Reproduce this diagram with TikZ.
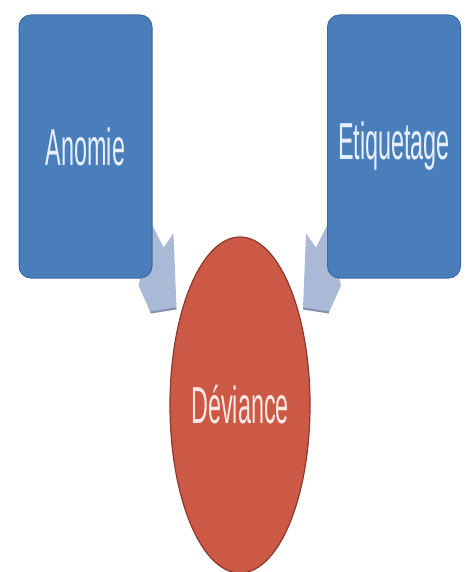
\documentclass[tikz,border=0pt]{standalone}
\usepackage{fontspec}
\setmainfont[FakeStretch=0.45]{Liberation Sans}
\usetikzlibrary{shapes.geometric,backgrounds}
\definecolor{boxblue}{RGB}{74,126,187}
\definecolor{boxedge}{RGB}{62,105,160}
\definecolor{ovalred}{RGB}{204,88,70}
\definecolor{ovaledge}{RGB}{140,58,48}
\definecolor{arrowblue}{RGB}{170,186,214}
\definecolor{arrowedge}{RGB}{130,144,170}
\definecolor{boxtext}{RGB}{232,240,255}
\definecolor{ovaltext}{RGB}{255,232,228}
\tikzset{
  box/.style={rectangle,rounded corners=12pt,fill=boxblue,draw=boxedge,line width=1pt,
    minimum width=133pt,minimum height=263pt,inner sep=0pt,text=boxtext,
    font=\fontsize{52}{56}\selectfont},
  oval/.style={ellipse,fill=ovalred,draw=ovaledge,line width=1.2pt,
    minimum width=140pt,minimum height=336pt,inner sep=0pt,text=ovaltext,
    font=\fontsize{52}{56}\selectfont},
  feed/.style={fill=arrowblue},
  feededge/.style={draw=arrowedge,line width=2pt}
}
\begin{document}
\begin{tikzpicture}[x=1pt,y=-1pt]
  \useasboundingbox (0,0) rectangle (470,572);
  \node[box] (anomie) at (85.5,146.5) {Anomie};
  \node[box] (etiquetage) at (394,146.5) {Etiquetage};
  \node[oval] (deviance) at (240,405) {Déviance};
  \begin{scope}[on background layer]
    \fill[white] (0,0) rectangle (470,572);
    \fill[feed,shift={(anomie.south east)}] (0,-53) -- (11,-31) -- (21,-45) -- (24,30) -- (-2,34) -- (-14,7) -- cycle;
    \draw[feededge,shift={(anomie.south east)}] (-2,34) -- (24,30);
    \fill[feed,shift={(etiquetage.south west)}] (0,-53) -- (-11,-31) -- (-21,-45) -- (-24,30) -- (2,34) -- (14,7) -- cycle;
    \draw[feededge,shift={(etiquetage.south west)}] (2,34) -- (-24,30);
  \end{scope}
\end{tikzpicture}
\end{document}
